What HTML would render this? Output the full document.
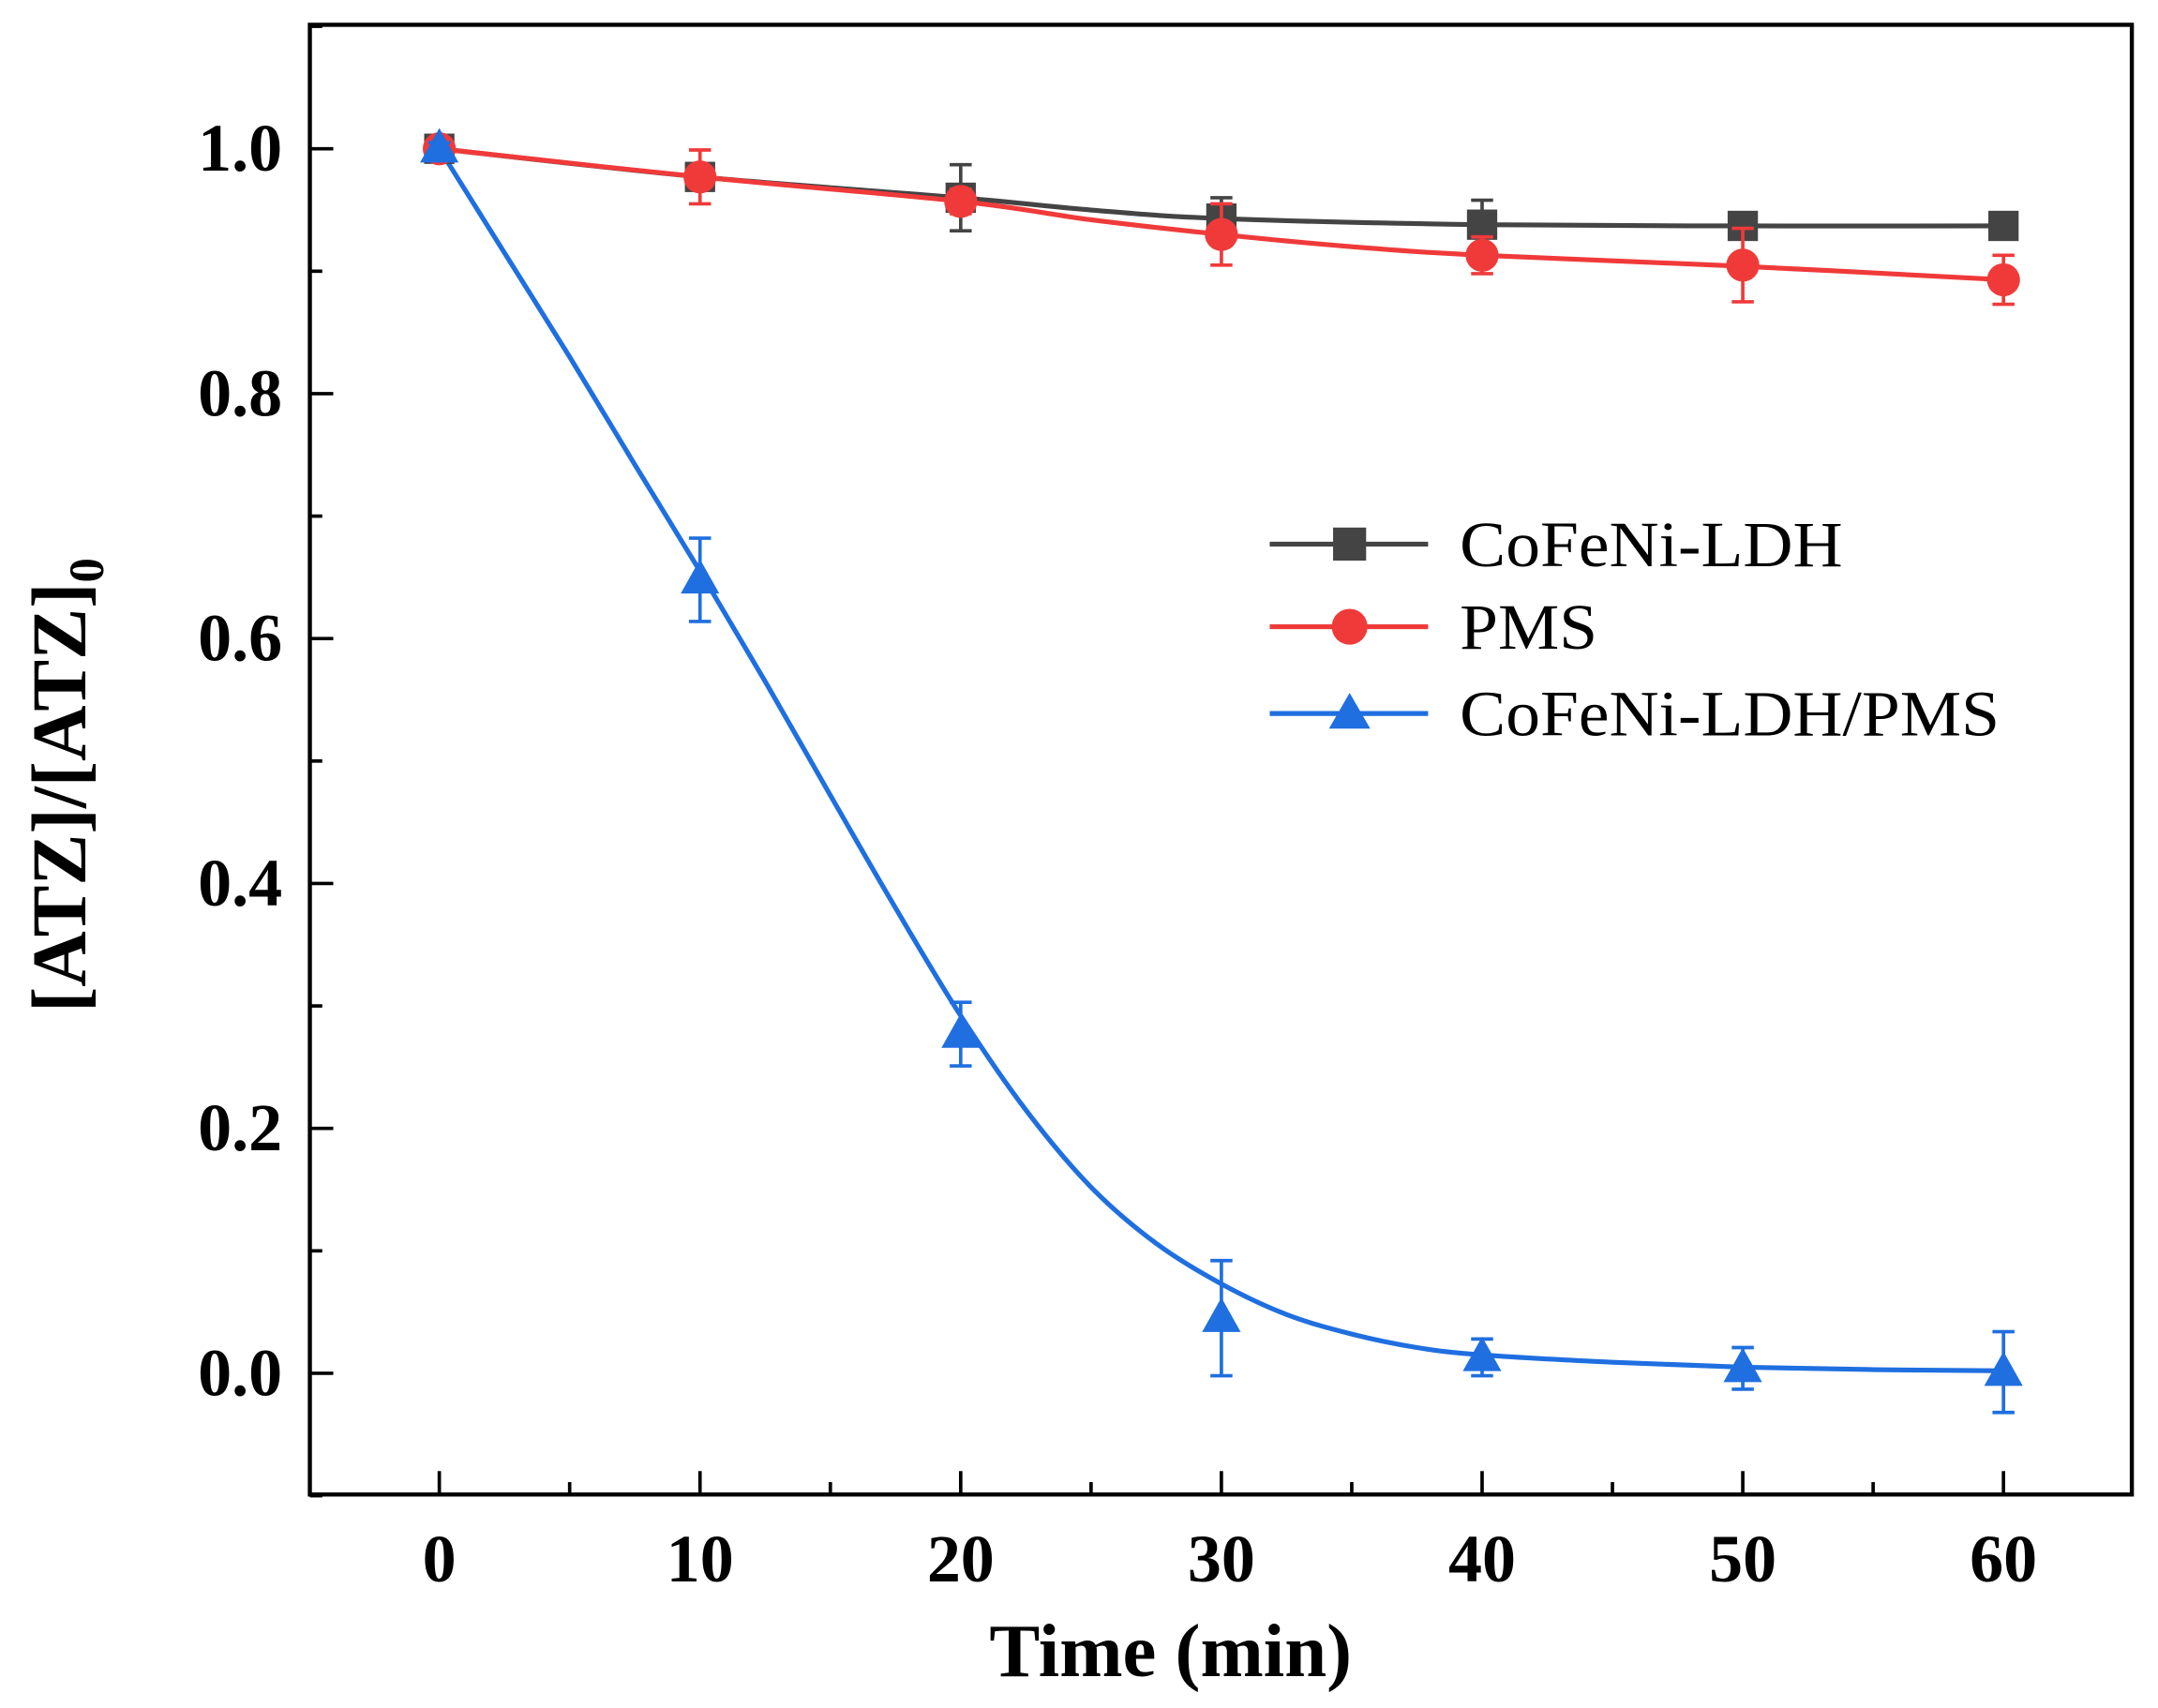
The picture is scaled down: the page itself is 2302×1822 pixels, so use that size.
<!DOCTYPE html>
<html><head><style>html,body{margin:0;padding:0;background:#fff}svg{display:block}</style></head>
<body>
<svg id="s" width="2302" height="1822" viewBox="0 0 1567 1240" preserveAspectRatio="none" xmlns="http://www.w3.org/2000/svg" font-family="Liberation Serif, serif">
<rect x="225" y="18" width="1323" height="1067" fill="none" stroke="#000" stroke-width="3"/>
<g id="ax" stroke="#000" stroke-width="2.5"></g>
<g id="tl" font-size="49" font-weight="bold" fill="#000"></g>
<text x="850" y="1217" font-size="55" font-weight="bold" text-anchor="middle">Time (min)</text>
<text transform="translate(62,570) rotate(-90)" font-size="56" font-weight="bold" text-anchor="middle">[ATZ]/[ATZ]<tspan font-size="36" dy="13">0</tspan></text>
<g id="data"></g>
<g font-size="47">
<line x1="922" y1="395" x2="1037" y2="395" stroke="#444" stroke-width="3.5"/><rect x="968" y="383" width="24" height="24" fill="#444"/>
<text x="1060" y="411" textLength="278" lengthAdjust="spacingAndGlyphs">CoFeNi-LDH</text>
<line x1="922" y1="455" x2="1037" y2="455" stroke="#f03a3a" stroke-width="3.5"/><circle cx="980" cy="455" r="13" fill="#f03a3a"/>
<text x="1060" y="471" textLength="100" lengthAdjust="spacingAndGlyphs">PMS</text>
<line x1="922" y1="518" x2="1037" y2="518" stroke="#1f6fe0" stroke-width="3.5"/><path d="M980 503 L995 529 L965 529Z" fill="#1f6fe0"/>
<text x="1060" y="534" textLength="392" lengthAdjust="spacingAndGlyphs">CoFeNi-LDH/PMS</text>
</g>
</svg>
<script>
const X=t=>319+t*18.93, Y=v=>997-v*889, NS="http://www.w3.org/2000/svg";
function el(p,n,a,txt){const e=document.createElementNS(NS,n);for(const k in a)e.setAttribute(k,a[k]);if(txt!=null)e.textContent=txt;document.getElementById(p).appendChild(e);return e;}
for(let t=0;t<=60;t+=5){const x=X(t);el("ax","line",{x1:x,x2:x,y1:1085,y2:t%10?1076:1068});if(t%10==0)el("tl","text",{x:x,y:1148,"text-anchor":"middle"},t);}
for(let i=-1;i<=11;i++){const v=i/10,y=Y(v);el("ax","line",{x1:225,x2:i%2?234:242,y1:y,y2:y});if(i%2==0&&i>=0)el("tl","text",{x:205,y:y+16,"text-anchor":"end"},v.toFixed(1));}
function smooth(pts){const P=pts.map(p=>[X(p[0]),Y(p[1])]);let d=`M${P[0][0]} ${P[0][1]}`;
 for(let i=0;i<P.length-1;i++){const p0=P[i-1]||P[i],p1=P[i],p2=P[i+1],p3=P[i+2]||p2;
  d+=`C${p1[0]+(p2[0]-p0[0])/6} ${p1[1]+(p2[1]-p0[1])/6} ${p2[0]-(p3[0]-p1[0])/6} ${p2[1]-(p3[1]-p1[1])/6} ${p2[0]} ${p2[1]}`;}
 return d;}
const T=[0,10,20,30,40,50,60];
const S=[
{c:"#444",v:[1,0.977,0.96,0.943,0.938,0.937,0.937],e:[0.005,0.01,0.027,0.017,0.02,0.008,0.01],m:"sq",
 cur:[[0,1],[10,0.977],[20,0.96],[25,0.95],[30,0.943],[40,0.938],[50,0.937],[60,0.937]]},
{c:"#f03a3a",v:[1,0.977,0.957,0.93,0.913,0.905,0.893],e:[0.005,0.022,0.01,0.025,0.015,0.03,0.02],m:"ci",
 cur:[[0,1],[10,0.977],[20,0.957],[25,0.942],[30,0.93],[35,0.92],[40,0.913],[50,0.904],[60,0.893]]},
{c:"#1f6fe0",v:[1,0.648,0.277,0.045,0.013,0.004,0.001],e:[0.005,0.034,0.026,0.047,0.015,0.017,0.033],m:"tr",
 cur:[[0,1],[2.5,0.915],[5,0.83],[7.5,0.742],[10,0.655],[12.5,0.565],[15,0.472],[17.5,0.38],[20,0.292],[22.5,0.215],[25,0.152],[27.5,0.106],[30,0.073],[32.5,0.048],[35,0.032],[37.5,0.021],[40,0.015],[45,0.009],[50,0.005],[55,0.003],[60,0.002]]}
];
for(const s of S){el("data","path",{d:smooth(s.cur),fill:"none",stroke:s.c,"stroke-width":3.5});}
for(const s of S){
 T.forEach((t,i)=>{const x=X(t),y=Y(s.v[i]),d=s.e[i]*889;
  el("data","path",{d:`M${x} ${y-d}V${y+d}M${x-8} ${y-d}H${x+8}M${x-8} ${y+d}H${x+8}`,stroke:s.c,"stroke-width":2.5,fill:"none"});
  if(s.m=="sq")el("data","rect",{x:x-11,y:y-11,width:22,height:22,fill:s.c});
  else if(s.m=="ci")el("data","circle",{cx:x,cy:y,r:12,fill:s.c});
  else el("data","path",{d:`M${x} ${y-15}L${x+14} ${y+10}L${x-14} ${y+10}Z`,fill:s.c});
 });
}
</script>
</body></html>
